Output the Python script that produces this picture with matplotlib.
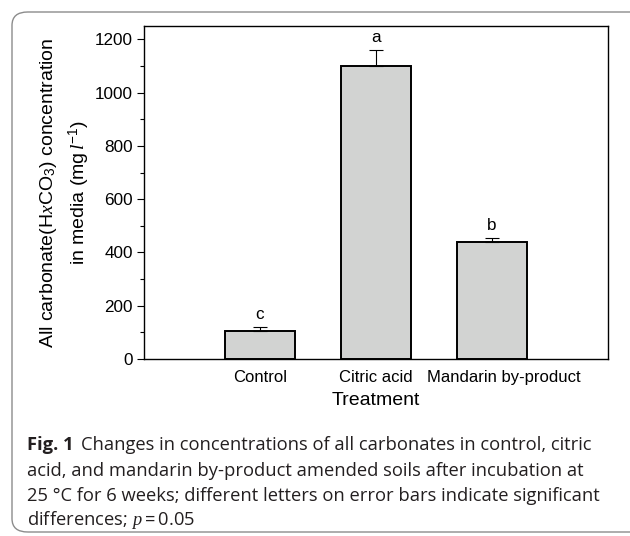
import numpy as np
import matplotlib
matplotlib.use("Agg")
import matplotlib.pyplot as plt
import matplotlib.transforms as mtransforms
from matplotlib.patches import FancyBboxPatch

# data
treatments = ["Control", "Citric acid", "Mandarin by-product"]
means = [104, 1099, 439]
errors = [16, 60, 17]
letters = ["c", "a", "b"]

yticks = [0, 200, 400, 600, 800, 1000, 1200]

W, H = 630, 536
fig = plt.figure(figsize=(W / 100, H / 100), dpi=100)

plt.rcParams['font.family'] = ['Liberation Sans', 'DejaVu Sans']
plt.rcParams['mathtext.fontset'] = 'custom'
plt.rcParams['mathtext.rm'] = 'Liberation Sans'
plt.rcParams['mathtext.it'] = 'Liberation Serif:italic'

# rounded frame around figure + caption
frame = FancyBboxPatch((12 / W, 4 / H), (W + 20) / W, (H - 16) / H,
                       boxstyle="round,pad=0,rounding_size=0.025",
                       transform=fig.transFigure, fill=False,
                       edgecolor="#8c8c8c", linewidth=1.0)
fig.patches.append(frame)

# axes in pixel positions
left, right, top, bottom = 144, 608, 26, 359
ax = fig.add_axes([left / W, 1 - bottom / H, (right - left) / W, (bottom - top) / H])

x = np.arange(1, len(treatments) + 1)
ax.bar(x, means, width=0.6, color="#d2d3d2", edgecolor="black", linewidth=1.4,
       yerr=[np.zeros(len(errors)), errors], capsize=5,
       error_kw=dict(elinewidth=0.8, capthick=0.8, ecolor="black"))

for xi, m, e, lab in zip(x, means, errors, letters):
    ax.text(xi, m + e + 18, lab, ha="center", va="bottom", fontsize=12.3)

ax.set_xlim(0, 4)
ax.set_ylim(0, 1250)
ax.set_yticks(yticks)
ax.set_yticks(np.arange(100, 1250, 200), minor=True)
ax.set_xticks(x)
ax.set_xticklabels(treatments, fontsize=12)
ax.tick_params(axis="x", length=0, pad=8)
ax.tick_params(axis="y", which="major", direction="out", length=5, labelsize=12.3, width=0.8, pad=3)
ax.tick_params(axis="y", which="minor", direction="out", length=3, width=0.8)
for s in ax.spines.values():
    s.set_linewidth(1.0)

# the long last label sits a bit to the right in the original
shift = mtransforms.ScaledTranslation(12 / 100, 0, fig.dpi_scale_trans)
last = ax.get_xticklabels()[-1]
last.set_transform(last.get_transform() + shift)

ax.set_xlabel("Treatment", fontsize=14, labelpad=5)
ax.set_ylabel("All carbonate(H$\\mathit{x}$CO$_3$) concentration\nin media (mg$\\,\\mathit{l}^{-1}$)",
              fontsize=14, labelpad=2, linespacing=1.45)

# caption
cap_x = 27 / W
cap_lines = [
    "Changes in concentrations of all carbonates in control, citric",
    "acid, and mandarin by-product amended soils after incubation at",
    "25 \u00b0C for 6 weeks; different letters on error bars indicate significant",
    "differences; $\\it{p}$\u2009=\u20090.05",
]
cap_y = [445, 471, 496, 520]
cap_font = ["Open Sans", "DejaVu Sans"]
fs = 13.2
fig.text(cap_x, 1 - cap_y[0] / H, "Fig. 1", fontsize=fs, fontweight="bold",
         family=cap_font, va="center", color="#231f20")
fig.text(cap_x + 54 / W, 1 - cap_y[0] / H, cap_lines[0], fontsize=fs,
         family=cap_font, va="center", color="#231f20")
for line, yy in zip(cap_lines[1:], cap_y[1:]):
    fig.text(cap_x, 1 - yy / H, line, fontsize=fs,
             family=cap_font, va="center", color="#231f20")

fig.savefig("out.png", dpi=100)
